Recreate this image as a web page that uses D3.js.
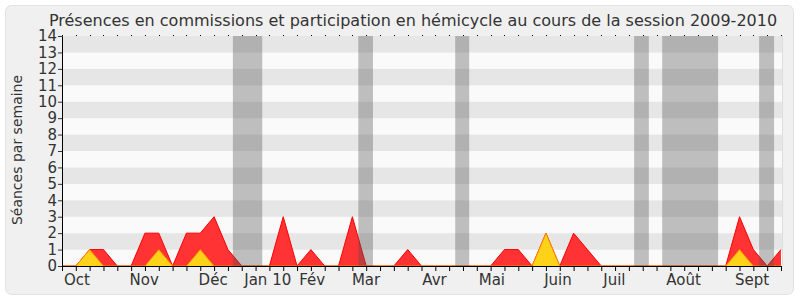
<!DOCTYPE html>
<html>
<head>
<meta charset="utf-8">
<script src="https://cdn.jsdelivr.net/npm/d3@7"></script>
<style>
	body { margin: 0; background: #fff; }
	text { font-family: "DejaVu Sans", sans-serif; fill: #333; }
</style>
</head>
<body>
<div id="chart"></div>
<script>
// Weekly values, one per week tick (53 weeks)
const weeks = d3.range(53);
const commissions = [0,0,1,1,0,0,2,2,0,2,2,3,1,0,0,0,3,0,1,0,0,3,0,0,0,1,0,0,0,0,0,0,1,1,0,2,0,2,1,0,0,0,0,0,0,0,0,0,0,3,1,0,1];
const hemicycle   = [0,0,1,0,0,0,0,1,0,0,1,0,0,0,0,0,0,0,0,0,0,0,0,0,0,0,0,0,0,0,0,0,0,0,0,2,0,0,0,0,0,0,0,0,0,0,0,0,0,1,0,0,0];

// Holiday periods (in week units)
const vacStart = [12.36, 21.43, 28.44, 41.38, 43.41, 50.42];
const vacEnd   = [14.48, 22.49, 29.45, 42.44, 47.45, 51.5];

// Month labels and their week position
const monthLabels = ["Oct","Nov","Déc","Jan 10","Fév","Mar","Avr","Mai","Juin","Juil","Août","Sept"];
const monthPos    = [1.08, 5.94, 10.93, 14.88, 18.1, 21.99, 26.94, 31.09, 35.87, 39.95, 44.95, 49.91];

const yTicks = d3.range(0, 15);

const W = 800, H = 300;
const margin = { top: 36, right: 19, bottom: 34, left: 62 };
const width = W - margin.left - margin.right,
	height = H - margin.top - margin.bottom;

const svg = d3.select("#chart")
	.append("svg")
	.attr("width", W)
	.attr("height", H);

// Outer frame
svg.append("rect")
	.attr("x", 5.5).attr("y", 5.5)
	.attr("width", 788).attr("height", 289)
	.attr("rx", 6)
	.attr("fill", "#f0f0f0")
	.attr("stroke", "#e2e2e2");

const g = svg.append("g")
	.attr("transform", `translate(${margin.left},${margin.top})`);

const x = d3.scaleLinear().domain([0, 52]).range([0, width]);
const y = d3.scaleLinear().domain([0, 14]).range([height, 0]);

// Plot background stripes
g.selectAll(".stripe")
	.data(d3.range(0, 14))
	.enter().append("rect")
	.attr("x", 0)
	.attr("y", d => y(d + 1))
	.attr("width", width + 1)
	.attr("height", y(0) - y(1))
	.attr("fill", d => d % 2 === 1 ? "#e6e6e6" : "#fafafa");

g.append("line")
	.attr("x1", width + 1.5).attr("x2", width + 1.5)
	.attr("y1", 0).attr("y2", height)
	.attr("stroke", "#dcdcdc");

// Areas
const area = v => d3.area()
	.x(d => x(d))
	.y0(y(0))
	.y1(d => y(v[d]));
const line = v => d3.line()
	.x(d => x(d))
	.y(d => y(v[d]));

g.append("path")
	.datum(weeks)
	.attr("fill", "#ff3333")
	.attr("d", area(commissions));
g.append("path")
	.datum(weeks)
	.attr("fill", "none")
	.attr("stroke", "#ff0000")
	.attr("stroke-width", 1)
	.attr("d", line(commissions));

g.append("path")
	.datum(weeks)
	.attr("fill", "#ffd21a")
	.attr("d", area(hemicycle));
g.append("path")
	.datum(weeks)
	.attr("fill", "none")
	.attr("stroke", "#ff8800")
	.attr("stroke-width", 1)
	.attr("d", line(hemicycle));

// Holidays
g.selectAll(".vac")
	.data(vacStart)
	.enter().append("rect")
	.attr("x", d => x(d))
	.attr("y", 0)
	.attr("width", (d, i) => x(vacEnd[i]) - x(d))
	.attr("height", height)
	.attr("fill", "rgb(76,76,76)")
	.attr("fill-opacity", 0.35);

// Y axis
const yAxis = g.append("g")
	.call(d3.axisLeft(y).tickValues(yTicks).tickSize(4).tickFormat(d3.format("d")));
yAxis.select(".domain").attr("stroke", "#000");
yAxis.selectAll(".tick line").attr("stroke", "#333");
yAxis.selectAll("text")
	.attr("x", -5)
	.style("font-size", "15px")
	.style("font-family", "DejaVu Sans, sans-serif")
	.attr("fill", "#333");

// X axis (weekly ticks)
const xAxis = g.append("g")
	.attr("transform", `translate(0,${height})`)
	.call(d3.axisBottom(x).tickValues(weeks).tickSize(5).tickFormat(""));
xAxis.select(".domain").attr("stroke", "#000");
xAxis.selectAll(".tick line").attr("stroke", "#000");

// top dotted marks
g.selectAll(".topdot")
	.data(weeks)
	.enter().append("rect")
	.attr("x", d => Math.round(x(d)))
	.attr("y", -1)
	.attr("width", 1)
	.attr("height", 1)
	.attr("fill", "#000");

g.selectAll(".month")
	.data(monthLabels)
	.enter().append("text")
	.attr("x", (d, i) => x(monthPos[i]))
	.attr("y", height + 19)
	.attr("text-anchor", "middle")
	.style("font-size", "15px")
	.text(d => d);

// Y axis title
svg.append("text")
	.attr("transform", "rotate(-90)")
	.attr("x", -150)
	.attr("y", 22)
	.attr("text-anchor", "middle")
	.style("font-size", "14px")
	.text("Séances par semaine");

// Title
svg.append("text")
	.attr("x", 413)
	.attr("y", 26)
	.attr("text-anchor", "middle")
	.style("font-size", "16px")
	.text("Présences en commissions et participation en hémicycle au cours de la session 2009-2010");
</script>
</body>
</html>
